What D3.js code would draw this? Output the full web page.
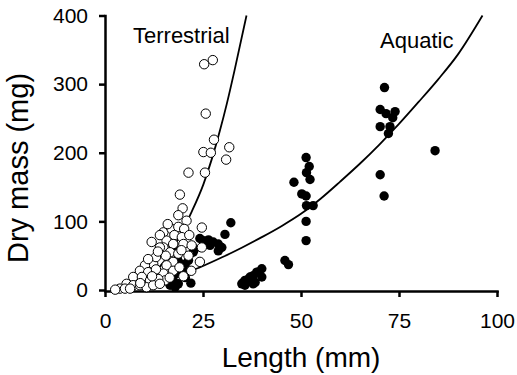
<!DOCTYPE html>
<html>
<head>
<meta charset="utf-8">
<script src="https://cdn.jsdelivr.net/npm/d3@7"></script>
<style>
	body { margin: 0; background: #fff; }
	svg { display: block; font-family: "Liberation Sans", Arial, sans-serif; }
	.axis path, .axis line { stroke: #000; stroke-width: 2.5; }
	.axis text { font-size: 21px; fill: #000; }
</style>
</head>
<body>
<svg id="chart"></svg>
<script>
// terrestrial insects, [length (mm), dry mass (mg)], open circles
const terrestrial = [
	[25.3, 329], [27.5, 335], [25.7, 257], [27.8, 219], [31.7, 208], [25.1, 201], [27, 200], [30.9, 190],
	[21.3, 171], [25.5, 171], [19.1, 139], [19.8, 119], [18.7, 109], [20.8, 101], [24.7, 91], [14.9, 84],
	[17, 89], [18.7, 92], [20.2, 89], [17.7, 80], [19.6, 77], [15.7, 72], [17.4, 67], [20, 67], [22.1, 65],
	[24.7, 62], [14.9, 62], [16.6, 55], [18.7, 53], [21.3, 50], [24.2, 41], [17.4, 41], [15.7, 36], [17.4, 28],
	[14.9, 24], [15.3, 14], [14, 80], [11.9, 70], [14, 62], [12.3, 38], [10.2, 36], [8.9, 28], [11, 26],
	[7.2, 19], [9.4, 19], [11.5, 14], [13.6, 16], [5.5, 9], [7.2, 7], [8.9, 7], [3.8, 2], [2.6, 0.5],
	[5.1, 2], [6.4, 2], [10.6, 4], [12.3, 7], [13, 48], [11, 45], [13, 30], [19, 33], [22, 28], [20, 20],
	[9, 10], [12, 20], [14, 9], [16.5, 18], [15.5, 50], [19.5, 58], [21.5, 80], [16, 96], [13.5, 56]
];

// aquatic insects, filled circles
const aquatic = [
	[32.1, 98], [30.6, 81], [28.9, 57], [24.2, 75], [25.1, 72], [26.4, 73], [27.6, 70], [28.9, 67],
	[26.8, 65], [29.8, 62], [22.5, 55], [22.9, 60], [21.3, 43], [20.8, 31], [20, 26], [18.3, 24],
	[21.9, 10], [17.4, 14], [16.6, 7], [18.7, 9], [17.9, 4], [17.4, 63], [18.5, 45], [19.5, 38],
	[14.5, 18], [20.5, 18],
	[35.7, 14], [37, 19], [38.7, 26], [40, 31], [37.8, 9], [34.9, 9], [39.1, 26], [37.8, 21], [40, 19],
	[36.6, 16], [35.3, 11], [38.3, 11], [35.7, 7], [45.9, 43], [46.8, 37],
	[51.3, 193], [52.1, 180], [51.4, 171], [52.3, 161], [48.2, 157], [50.2, 140], [51.3, 137],
	[51.4, 123], [53.1, 123], [51.3, 100], [51.3, 72],
	[71.3, 295], [70.2, 263], [71.7, 257], [74, 260], [73.4, 251], [70.2, 238], [72.7, 238],
	[72.3, 228], [70.2, 168], [71.2, 137], [84.2, 203]
];

// fitted curves, points
const terrestrialCurve = [
	[1.5, 0], [5, 2.3], [8, 8], [10, 14], [12.5, 25], [15, 41], [17.5, 62], [20.4, 94], [22.1, 114],
	[25.1, 154], [27.2, 190], [29.3, 232], [31.1, 272], [33.2, 324], [36.1, 400]
];
const aquaticCurve = [
	[19.6, 23], [25, 35], [30, 48], [35, 62], [40, 77], [45, 93], [50, 111], [55, 133], [60, 158],
	[65, 184], [70, 212], [75, 242], [80, 274], [85, 307], [90, 343], [96.3, 400]
];

const xTicks = [0, 25, 50, 75, 100];
const yTicks = [0, 100, 200, 300, 400];

const viewWidth = 517, viewHeight = 375;

const svg = d3.select("#chart")
	.attr("width", viewWidth)
	.attr("height", viewHeight);

const x = d3.scaleLinear().domain([0, 100]).range([105, 497]);
const y = d3.scaleLinear().domain([0, 400]).range([290, 15.5]);

svg.append("g")
	.attr("class", "axis")
	.attr("transform", "translate(0,291)")
	.call(d3.axisBottom(x).tickValues(xTicks).tickSize(6).tickSizeOuter(0).tickPadding(16));

svg.append("g")
	.attr("class", "axis")
	.attr("transform", "translate(105,0)")
	.call(d3.axisLeft(y).tickValues(yTicks).tickSize(6).tickSizeOuter(0).tickPadding(11));

svg.selectAll(".axis .domain").attr("stroke-linecap", "square");

const line = d3.line()
	.x(d => x(d[0]))
	.y(d => y(d[1]))
	.curve(d3.curveMonotoneX);

svg.append("path")
	.datum(terrestrialCurve)
	.attr("fill", "none")
	.attr("stroke", "#000")
	.attr("stroke-width", 1.8)
	.attr("d", line);

svg.append("path")
	.datum(aquaticCurve)
	.attr("fill", "none")
	.attr("stroke", "#000")
	.attr("stroke-width", 1.8)
	.attr("d", line);

svg.append("g")
	.selectAll("circle")
	.data(aquatic)
	.join("circle")
	.attr("cx", d => x(d[0]))
	.attr("cy", d => y(d[1]))
	.attr("r", 4.7)
	.attr("fill", "#000");

svg.append("g")
	.selectAll("circle")
	.data(terrestrial)
	.join("circle")
	.attr("cx", d => x(d[0]))
	.attr("cy", d => y(d[1]))
	.attr("r", 4.7)
	.attr("fill", "#fff")
	.attr("stroke", "#000")
	.attr("stroke-width", 1);

svg.append("text")
	.attr("x", 133)
	.attr("y", 43)
	.style("font-size", "22px")
	.text("Terrestrial");

svg.append("text")
	.attr("x", 380)
	.attr("y", 48)
	.style("font-size", "22px")
	.text("Aquatic");

svg.append("text")
	.attr("x", 301)
	.attr("y", 367)
	.attr("text-anchor", "middle")
	.style("font-size", "28px")
	.text("Length (mm)");

svg.append("text")
	.attr("transform", "translate(28,168) rotate(-90)")
	.attr("text-anchor", "middle")
	.style("font-size", "29px")
	.text("Dry mass (mg)");
</script>
</body>
</html>
